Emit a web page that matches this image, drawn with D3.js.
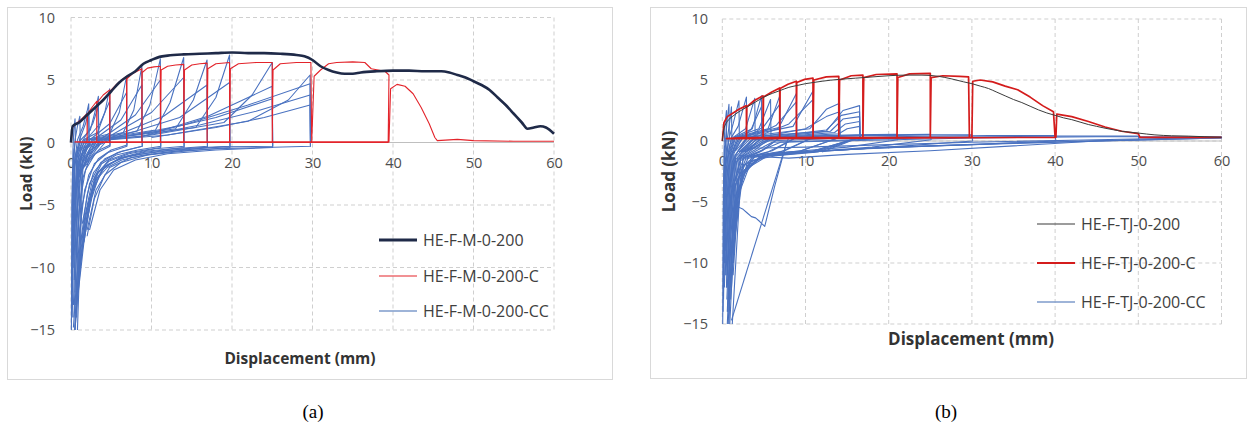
<!DOCTYPE html>
<html><head><meta charset="utf-8">
<script src="https://cdn.jsdelivr.net/npm/d3@7/dist/d3.min.js"></script>
<style>body{margin:0;background:#fff}svg{display:block}</style>
</head><body>
<svg id="c" width="1250" height="431"></svg>
<script>
// ---------- data ----------
const xTicks = [0, 10, 20, 30, 40, 50, 60];
const yTicks = [-15, -10, -5, 0, 5, 10];
const namesA = ["HE-F-M-0-200", "HE-F-M-0-200-C", "HE-F-M-0-200-CC"];
const namesB = ["HE-F-TJ-0-200", "HE-F-TJ-0-200-C", "HE-F-TJ-0-200-CC"];
const captions = ["(a)", "(b)"];

// panel (a) monotonic
const monoA = [[0,0],[0.2,1.3],[1,1.6],[2,2.2],[3,2.8],[4,3.4],[5,4.1],[6,4.8],[7,5.3],[8,5.7],[9,6.3],[10,6.6],[11,6.85],[12,6.95],[14,7.05],[16,7.1],[18,7.15],[20,7.2],[22,7.15],[24,7.15],[26,7.1],[28,7.0],[29,6.9],[30,6.6],[31,6.1],[32,5.8],[33,5.6],[34,5.5],[35,5.5],[36,5.6],[38,5.7],[40,5.75],[42,5.75],[44,5.7],[46,5.7],[47,5.6],[48,5.4],[49,5.2],[50,4.9],[51,4.6],[52,4.2],[53,3.6],[54,3.0],[55,2.3],[56,1.6],[56.7,1.1],[57.5,1.2],[58.3,1.3],[59,1.2],[60,0.7]];
// panel (a) cyclic (-C)
const cycA = [[0,0],[0.2,1.2],[0.6,1.5],[1.2,1.8],[2.0,2.3],[2.0,0.0],[0.5,0.05],[2.0,0.05],[2.05,2.3],[2.6,2.8],[3.2,3.3],[3.2,0.0],[0.6,0.05],[3.2,0.05],[3.25,3.2],[4.0,3.8],[4.8,4.2],[4.8,0],[0.8,0.05],[4.8,0.05],[4.85,4.1],[5.6,4.6],[6.3,5.0],[6.9,5.3],[6.9,0],[1,0.05],[6.9,0.05],[6.95,5.1],[7.6,5.5],[8.2,5.7],[8.8,5.9],[8.8,0],[1.2,0.05],[8.8,0.05],[8.85,5.6],[9.5,5.95],[10.3,6.05],[11.1,6.1],[11.1,0],[1.5,0.05],[11.1,0.05],[11.2,5.8],[12,6.1],[13,6.2],[14,6.25],[14,0],[2,0.05],[14,0.05],[14.1,5.8],[15,6.2],[16,6.3],[16.9,6.35],[16.9,0],[2,0.05],[16.9,0.05],[17.0,5.9],[18,6.3],[19.7,6.4],[19.7,0],[3,0.05],[19.7,0.05],[19.8,5.9],[20.8,6.3],[23,6.4],[25,6.4],[25,0],[3,0.05],[25,0.05],[25.1,5.8],[26,6.3],[28,6.4],[29.8,6.4],[29.9,0],[4,0.05],[29.9,0.05],[30.2,5.3],[31,5.8],[32,6.3],[33,6.4],[35,6.45],[36.5,6.4],[37.3,5.9],[39,5.7],[39.5,5.4],[39.4,0],[5,0.05],[39.5,0.05],[39.7,4.3],[40.5,4.65],[41.5,4.5],[42.5,3.9],[43.5,2.8],[44.5,1.5],[45.2,0.4],[45.5,0.15],[48,0.25],[50,0.15],[55,0.1],[60,0.1]];
// panel (a) fully reversed cycles (-CC)
const ccA = [
 [[0.05,-15],[0.1,-5],[0.25,-0.5],[0.35,1.0],[0.5,1.9],[0.55,0.2],[0.4,-0.6],[0.25,-2.5],[0.12,-8],[0.05,-15]],
 [[0.1,-13],[0.2,-3],[0.5,0.2],[0.8,1.3],[1.1,2.1],[1.15,0.0],[0.8,-0.6],[0.45,-2],[0.25,-6],[0.12,-12]],
 [[0.15,-12],[0.35,-2],[0.8,0.2],[1.5,1.3],[2.0,2.5],[2.2,3.1],[2.25,-0.2],[1.5,-0.7],[0.9,-1.8],[0.5,-4.5],[0.3,-9],[0.15,-14]],
 [[0.2,-7],[0.5,-1.2],[1.1,0.3],[1.8,1.5],[2.2,2.5],[2.25,-0.3],[1.3,-1],[0.7,-3],[0.35,-8]],
 [[0.2,-10],[0.5,-1.5],[1.2,0.2],[2.4,1.0],[3.0,2.5],[3.4,3.7],[3.45,-0.2],[2.4,-0.6],[1.5,-1.5],[0.95,-3.5],[0.55,-8],[0.3,-13]],
 [[0.3,-6],[0.8,-0.8],[1.6,0.3],[2.7,1.5],[3.4,2.9],[3.45,-0.3],[2.1,-1],[1.2,-2.6],[0.7,-6]],
 [[0.3,-9],[0.7,-1.3],[1.5,0.2],[3.3,0.8],[4.2,2.4],[4.8,4.3],[4.85,-0.2],[3.5,-0.6],[2.3,-1.3],[1.5,-2.8],[1.0,-5.5],[0.6,-10],[0.35,-14]],
 [[0.4,-5],[1.0,-0.7],[2.0,0.3],[3.6,1.5],[4.8,3.3],[4.85,-0.3],[3.0,-0.9],[1.8,-2.2],[1.1,-4.8],[0.65,-9]],
 [[0.35,-10],[0.8,-1.5],[1.7,0.2],[4.8,0.7],[6.0,2.4],[6.9,5.3],[6.95,-0.2],[5.0,-0.6],[3.4,-1.3],[2.2,-2.6],[1.4,-5],[0.9,-9],[0.45,-15]],
 [[0.5,-5],[1.2,-0.6],[2.5,0.3],[4.8,1.5],[6.9,4.0],[6.95,-0.3],[4.6,-0.8],[2.9,-1.7],[1.7,-3.8],[1.0,-7.5]],
 [[0.4,-11],[0.9,-1.6],[2.0,0.2],[6.5,0.8],[7.8,2.6],[8.8,6.1],[8.85,-0.3],[6.3,-0.7],[4.2,-1.3],[2.8,-2.4],[2.0,-4.2],[1.3,-7.5],[0.6,-13]],
 [[0.6,-4],[1.5,-0.5],[3.2,0.4],[6.2,1.8],[8.8,4.6],[8.85,-0.3],[5.8,-0.8],[3.7,-1.6],[2.3,-3.3],[1.4,-6.5]],
 [[0.5,-12],[1.0,-1.6],[2.3,0.2],[8.2,0.9],[9.8,3.0],[11.1,6.7],[11.15,-0.3],[8.3,-0.6],[5.6,-1.0],[3.8,-1.7],[2.6,-3.2],[1.7,-6],[1.0,-10],[0.5,-15]],
 [[0.7,-3.5],[1.8,-0.4],[4,0.4],[8,2.2],[11.1,5.0],[11.15,-0.4],[7.3,-0.8],[4.7,-1.4],[3.0,-2.7],[1.9,-5.5],[1.1,-10]],
 [[0.6,-13],[1.2,-1.5],[2.6,0.2],[10.5,1.0],[12.3,3.2],[14.0,6.8],[14.05,-0.3],[10.5,-0.5],[7.2,-0.9],[4.7,-1.5],[3.2,-2.5],[2.3,-4.6],[1.5,-7.8],[0.8,-12.5]],
 [[0.8,-3],[2,-0.4],[4.5,0.4],[10,2.4],[14,5.2],[14.05,-0.4],[9.3,-0.7],[6.2,-1.2],[4,-2.1],[2.6,-4],[1.6,-8]],
 [[0.7,-14],[1.4,-1.5],[3.0,0.2],[13,1.1],[15.2,3.4],[16.9,6.6],[16.95,-0.3],[12.8,-0.5],[9,-0.8],[6,-1.3],[4.2,-1.9],[3.0,-3.1],[2.4,-4.8],[1.6,-8],[0.9,-12]],
 [[1.0,-2.8],[2.4,-0.4],[5,0.4],[11.5,2.1],[16.9,4.6],[16.95,-0.4],[11.5,-0.8],[7.5,-1.2],[4.8,-2],[3.1,-3.8],[2,-7]],
 [[0.8,-15],[1.5,-1.6],[3.3,0.2],[15.5,1.2],[18,3.6],[19.7,7.0],[19.75,-0.3],[15,-0.45],[11,-0.7],[7,-1.1],[4.8,-1.7],[3.4,-2.4],[2.7,-3.5],[2.4,-4.4],[1.8,-6],[1.1,-8.4],[0.7,-11],[0.3,-14.8]],
 [[1.2,-2.4],[2.8,-0.4],[5.5,0.4],[13.5,2.0],[19.7,4.8],[19.75,-0.4],[14,-0.7],[9.5,-1.0],[6.2,-1.6],[4.2,-2.6],[2.9,-4.5],[2,-7.5]],
 [[1.3,-2.2],[3.6,0.2],[10,0.6],[19,1.6],[22.5,3.8],[25,6.4],[25.05,-0.3],[19,-0.35],[13,-0.6],[9,-0.9],[6,-1.3],[4.3,-1.9],[3.2,-2.9],[2.4,-4.6],[1.7,-7],[1.0,-10.5],[0.5,-15]],
 [[1.5,-2],[4,0.2],[9,0.5],[17,2.1],[25,4.5],[25.05,-0.4],[18,-0.6],[12,-0.9],[8,-1.4],[5.3,-2.2],[3.6,-3.8],[2.3,-7]],
 [[4.5,0.3],[10,0.8],[18,2.0],[25,3.5],[25.05,-0.3]],
 [[1.6,-2],[4.5,0.2],[12,0.6],[22,1.7],[27,3.4],[29.7,5.4],[29.75,-0.3],[24,-0.4],[18,-0.5],[13,-0.7],[9,-1.0],[6.3,-1.4],[4.5,-2.0],[3.4,-2.8],[2.6,-4.4],[1.9,-6.5],[1.2,-9.5],[0.6,-13.5]],
 [[6,0.4],[14,1.4],[22,3.0],[29.7,4.7],[29.75,-0.3]],
 [[8,0.4],[16,1.4],[23,2.5],[29.7,3.8],[29.75,-0.3]],
 [[10,0.4],[18,1.2],[24,2.0],[29.7,3.0],[29.75,-0.3]]
];

// panel (b) monotonic
const monoB = [[0,0],[0.2,1.0],[0.6,1.6],[1.2,2.0],[2,2.4],[3,2.8],[4,3.2],[5,3.6],[6,3.9],[7,4.15],[8,4.4],[9,4.55],[10,4.7],[11,4.8],[12,4.9],[14,5.05],[16,5.15],[18,5.25],[20,5.35],[22,5.4],[24,5.4],[26,5.3],[27.5,5.1],[29,4.85],[30,4.7],[31,4.5],[32,4.3],[33,4.0],[34,3.7],[35,3.4],[36,3.15],[37,2.85],[38,2.55],[39,2.3],[40,2.1],[41,1.9],[42,1.75],[43,1.55],[44,1.35],[45,1.2],[46,1.05],[47,0.92],[48,0.8],[49,0.72],[50,0.65],[52,0.5],[54,0.43],[56,0.4],[58,0.35],[60,0.3]];
// panel (b) cyclic (-C)
const cycB = [[0,0],[0.2,1.5],[0.6,2.0],[1.3,2.3],[2.0,2.6],[2.9,2.9],[2.9,0.3],[0.5,0.2],[2.9,0.3],[2.95,2.8],[3.8,3.3],[4.9,3.7],[4.9,0.3],[0.6,0.2],[4.9,0.3],[4.95,3.6],[5.9,4.0],[6.9,4.35],[6.9,0.3],[0.8,0.2],[6.9,0.3],[6.95,4.3],[7.9,4.65],[8.9,4.9],[8.9,0.3],[1,0.2],[8.9,0.3],[8.95,4.8],[9.9,5.05],[10.9,5.15],[10.9,0.3],[1.2,0.2],[10.9,0.3],[11,5.0],[12.5,5.25],[14.0,5.3],[14.0,0.3],[1.5,0.2],[14,0.3],[14.1,5.0],[15.5,5.35],[16.9,5.4],[16.9,0.3],[2,0.2],[16.9,0.3],[17.0,5.2],[18.5,5.45],[21,5.5],[21,0.3],[2.5,0.2],[21,0.3],[21.1,5.2],[22.5,5.5],[25,5.55],[25,0.3],[3,0.2],[25,0.3],[25.1,5.2],[26.5,5.35],[28.5,5.3],[29.6,5.25],[29.7,0.3],[4,0.2],[30,0.3],[30.1,4.9],[31,5.0],[32.5,4.85],[34,4.5],[35.5,4.2],[37,3.6],[38.5,2.9],[39.8,2.4],[40,0.3],[5,0.2],[40.1,0.3],[40.2,2.2],[42,2.0],[44,1.6],[46,1.15],[48,0.8],[50,0.6],[50.2,0.3],[55,0.3],[60,0.3]];
// panel (b) fully reversed cycles (-CC)
const ccB = [
 [[0.05,-15],[0.1,-6],[0.2,-1],[0.3,1.2],[0.5,2.5],[0.5,0.3],[0.35,-0.5],[0.2,-3],[0.1,-9],[0.05,-15]],
 [[0.1,-12],[0.2,-3],[0.4,0.2],[0.6,1.8],[0.8,3.0],[0.85,0.3],[0.6,-0.6],[0.35,-2.5],[0.2,-7],[0.1,-14]],
 [[0.15,-11],[0.3,-2.5],[0.6,0.2],[0.9,1.6],[1.1,2.8],[1.15,0.3],[0.8,-0.6],[0.5,-2.2],[0.3,-6],[0.15,-13]],
 [[0.2,-10],[0.4,-2],[0.8,0.2],[1.3,1.4],[2.0,3.3],[2.05,0.3],[1.4,-0.6],[0.9,-1.8],[0.5,-5],[0.25,-12]],
 [[0.25,-9],[0.6,-1.5],[1.1,0.3],[1.9,1.2],[2.9,3.6],[2.95,0.3],[2.0,-0.7],[1.2,-1.7],[0.7,-4.5],[0.35,-11]],
 [[0.3,-8],[0.7,-1.3],[1.3,0.3],[2.8,1.0],[3.9,3.5],[3.95,0.3],[2.6,-0.7],[1.5,-1.6],[0.9,-4],[0.45,-10]],
 [[0.35,-9],[0.8,-1.2],[1.4,0.3],[3.6,1.0],[4.7,3.7],[4.75,0.3],[3.2,-0.7],[1.8,-1.5],[1.0,-4.5],[0.5,-12]],
 [[0.4,-10],[0.9,-1.2],[1.5,0.3],[4.4,1.0],[5.8,3.4],[5.85,0.3],[4,-0.7],[2.2,-1.4],[1.2,-4],[0.6,-11]],
 [[0.45,-11],[1.0,-1.1],[1.6,0.3],[5.5,1.0],[6.9,3.7],[6.95,0.3],[4.8,-0.8],[2.6,-1.4],[1.4,-3.5],[0.7,-12]],
 [[0.5,-12],[1.1,-1.1],[1.8,0.3],[6.8,1.1],[8.9,3.9],[8.95,0.3],[6,-0.8],[3.2,-1.3],[1.6,-3.5],[0.8,-13]],
 [[0.55,-13],[1.2,-1.0],[2.0,0.3],[8.5,1.2],[10.9,4.1],[10.95,0.3],[7.5,-0.8],[4,-1.2],[2,-3],[1.0,-9],[0.6,-15]],
 [[0.6,-14],[1.3,-1.0],[2.2,0.3],[10.5,1.0],[12.5,2.6],[14.1,3.1],[14.15,0.3],[9.5,-0.8],[5,-1.1],[2.5,-2.5],[1.3,-7],[0.7,-15]],
 [[0.65,-14],[1.4,-1.0],[2.4,0.3],[12.5,0.8],[14.5,2.5],[16.5,2.9],[16.55,0.3],[11,-0.8],[6,-1.0],[3,-2],[1.6,-5],[0.9,-15]],
 [[1.5,-0.8],[2.5,0.3],[3.5,1.0],[4.7,2.8],[4.75,0.3],[3,-0.8],[1.6,-1.8]],
 [[1.6,-0.8],[3,0.3],[5,1.2],[6.9,3.0],[6.95,0.3],[4.5,-0.9],[2.2,-1.6],[1.2,-4]],
 [[1.8,-0.9],[3.5,0.3],[6.5,1.3],[8.9,3.2],[8.95,0.3],[5.5,-0.9],[2.8,-1.5],[1.4,-4]],
 [[2.0,-0.9],[4,0.3],[8,1.4],[10.9,3.4],[10.95,0.3],[7,-0.9],[3.5,-1.4],[1.6,-4.5]],
 [[2.2,-0.9],[4.5,0.3],[10,1.0],[12.5,2.0],[14.1,2.4],[14.15,0.3],[9,-0.9],[4.5,-1.3],[2,-3]],
 [[2.4,-0.9],[5,0.3],[12.5,0.9],[14.3,2.1],[16.5,2.4],[16.55,0.3],[10.5,-0.9],[5.5,-1.2],[2.6,-2.4]],
 [[2.5,-0.9],[5.5,0.3],[13,0.8],[14.5,1.8],[16.5,2.0],[16.55,0.3],[11,-0.9],[6,-1.2]],
 [[2.7,-0.9],[6,0.3],[13.5,0.7],[14.8,1.4],[16.5,1.6],[16.55,0.3],[11.5,-0.9],[6.5,-1.2]],
 [[2.8,-0.9],[6.5,0.3],[14,0.6],[15,1.0],[16.5,1.2],[16.55,0.3],[12,-0.9]],
 [[0.8,-15],[1.5,-1.2],[3,0.2],[10,0.4],[16,0.5],[21,0.55],[21.1,0.1],[15,-0.5],[8,-0.9],[4,-1.2],[2.2,-2.2],[1.3,-6],[0.8,-14]],
 [[1.0,-13],[1.6,-1.3],[3.5,0.1],[12,0.4],[20,0.5],[25,0.55],[25.1,0.1],[18,-0.5],[10,-0.9],[5,-1.2],[2.6,-2],[1.5,-5.5],[1.0,-12]],
 [[1.2,-11],[1.8,-1.4],[4,0.1],[15,0.4],[25,0.5],[30,0.5],[30.1,0.0],[22,-0.4],[13,-0.8],[6,-1.1],[3,-1.8],[1.7,-5],[1.1,-12]],
 [[1.3,-10],[2,-1.5],[5,0.0],[20,0.35],[32,0.45],[40,0.45],[40.1,0.0],[30,-0.3],[18,-0.6],[8,-1.0],[3.5,-1.6],[1.9,-4.5],[1.3,-11]],
 [[1.4,-9],[2.2,-1.5],[6,-0.1],[25,0.3],[40,0.4],[50,0.4],[50.1,0.1],[38,-0.1],[25,-0.4],[12,-0.8],[5,-1.2],[2.5,-2.5],[1.5,-8]],
 [[1.5,-8],[2.5,-1.4],[7,-0.1],[30,0.25],[45,0.35],[60,0.35],[60,0.25],[48,0.05],[35,-0.2],[20,-0.5],[10,-0.9],[4.5,-1.3],[2.2,-3],[1.2,-15]],
 [[3,-0.6],[10,-0.5],[20,-0.3],[30,-0.1],[45,0.1],[60,0.3]],
 [[2,-1.2],[8,-1.4],[15,-1.1],[25,-0.8],[35,-0.4],[45,0.0],[60,0.25]],
 [[0.4,-2],[1.0,-3.5],[1.9,-5.4],[2.5,-5.6],[3.0,-5.9],[3.5,-6.2],[4.0,-6.3],[4.5,-6.6],[5.1,-7.0],[6.3,-3.7],[7.7,-0.2],[8,0.3]],
 [[1.1,-14.7],[7.7,-0.2]]
];

// ---------- drawing ----------
const svg = d3.select("#c");
const panels = [
  {frame:[7,7,605,372], xr:[71,554], yr:[330,17.5], names:namesA, mono:monoA, cyc:cycA, cc:ccA,
   ytx:55, titleX:26, xTitleX:300, xTitleY:364, titleSize:15.5, legSize:16, legX:379, legY:[240,276,311],
   styles:[{c:"#1f2a48",w:2.6,lw:3.2},{c:"#e3242b",w:1.1,lw:1.2},{c:"#4a72c0",w:1.1,lw:1.3,lc:"#7e9bcb"}]},
  {frame:[650,7,596,371], xr:[722.3,1221.5], yr:[324,19], names:namesB, mono:monoB, cyc:cycB, cc:ccB,
   ytx:708, titleX:668, xTitleX:971, xTitleY:345, titleSize:17, legSize:16, legX:1037, legY:[224,263,302],
   styles:[{c:"#3b3b3b",w:1,lw:1.2},{c:"#d41c1c",w:1.7,lw:2.2},{c:"#4a72c0",w:1.1,lw:1.3,lc:"#7e9bcb"}]}
];
const capX = [313, 946];
const font = "'Open Sans', 'DejaVu Sans', sans-serif";

panels.forEach((p, i) => {
  const g = svg.append("g");
  g.append("rect").attr("x", p.frame[0]+0.5).attr("y", p.frame[1]+0.5)
   .attr("width", p.frame[2]).attr("height", p.frame[3])
   .attr("fill", "#fff").attr("stroke", "#d9d9d9");
  const x = d3.scaleLinear().domain([0, 60]).range(p.xr);
  const y = d3.scaleLinear().domain([-15, 10]).range(p.yr);

  // grid
  g.append("g").selectAll("line").data(yTicks).join("line")
    .attr("x1", x(0)).attr("x2", x(60)).attr("y1", d => y(d)).attr("y2", d => y(d))
    .attr("stroke", "#cfcfcf").attr("stroke-dasharray", "4,3").attr("stroke-width", 1);
  g.append("g").selectAll("line").data(xTicks).join("line")
    .attr("y1", y(10)).attr("y2", y(-15)).attr("x1", d => x(d)).attr("x2", d => x(d))
    .attr("stroke", "#cfcfcf").attr("stroke-dasharray", "4,3").attr("stroke-width", 1);
  g.append("line").attr("x1", x(0)).attr("x2", x(60)).attr("y1", y(0)).attr("y2", y(0))
    .attr("stroke", "#bfbfbf");

  // tick labels via axes
  const yAx = d3.axisLeft(y).tickValues(yTicks).tickSize(0).tickPadding(0);
  const ya = g.append("g").attr("transform", `translate(${p.ytx},0)`).call(yAx);
  ya.select(".domain").remove();
  ya.selectAll("text").attr("font-family", font).attr("font-size", 14.5).attr("fill", "#4d4d4d");
  const xAx = d3.axisBottom(x).tickValues(xTicks).tickSize(0).tickPadding(0);
  const xa = g.append("g").attr("transform", `translate(0,${y(0)+15})`).call(xAx);
  xa.select(".domain").remove();
  xa.selectAll("text").attr("font-family", font).attr("font-size", 14.5).attr("fill", "#4d4d4d");

  const clipId = "clip" + i;
  svg.append("clipPath").attr("id", clipId).append("rect")
    .attr("x", p.xr[0]-3).attr("y", p.yr[1]-2).attr("width", p.xr[1]-p.xr[0]+6).attr("height", p.yr[0]-p.yr[1]+4);
  const line = d3.line().x(d => x(d[0])).y(d => y(d[1]));
  const plot = g.append("g").attr("clip-path", `url(#${clipId})`);
  plot.append("g").selectAll("path").data(p.cc).join("path")
    .attr("d", line).attr("fill", "none").attr("stroke", p.styles[2].c)
    .attr("stroke-width", p.styles[2].w).attr("stroke-linejoin", "round");
  plot.append("path").datum(p.cyc).attr("d", line).attr("fill", "none")
    .attr("stroke", p.styles[1].c).attr("stroke-width", p.styles[1].w).attr("stroke-linejoin", "round");
  plot.append("path").datum(p.mono).attr("d", line.curve(d3.curveMonotoneX)).attr("fill", "none")
    .attr("stroke", p.styles[0].c).attr("stroke-width", p.styles[0].w).attr("stroke-linejoin", "round");

  // axis titles
  g.append("text").attr("x", p.xTitleX).attr("y", p.xTitleY)
    .attr("text-anchor", "middle").attr("font-family", font).attr("font-weight", "bold")
    .attr("font-size", p.titleSize).attr("fill", "#333").text("Displacement (mm)");
  g.append("text").attr("transform", `translate(${p.titleX},${(p.yr[0]+p.yr[1])/2}) rotate(-90)`)
    .attr("text-anchor", "middle").attr("dominant-baseline", "central").attr("font-family", font).attr("font-weight", "bold")
    .attr("font-size", p.titleSize).attr("fill", "#333").text("Load (kN)");

  // legend
  p.names.forEach((n, k) => {
    const s = p.styles[k];
    g.append("line").attr("x1", p.legX).attr("x2", p.legX + 38).attr("y1", p.legY[k]).attr("y2", p.legY[k])
      .attr("stroke", s.lc || s.c).attr("stroke-width", s.lw);
    g.append("text").attr("x", p.legX + 44).attr("y", p.legY[k]).attr("dominant-baseline", "central")
      .attr("font-family", font).attr("font-size", p.legSize).attr("fill", "#404040").text(n);
  });

  svg.append("text").attr("x", capX[i]).attr("y", 418).attr("text-anchor", "middle")
    .attr("font-family", "'Liberation Serif', 'Times New Roman', serif").attr("font-size", 19)
    .attr("fill", "#000").text(captions[i]);
});
</script>
</body></html>
